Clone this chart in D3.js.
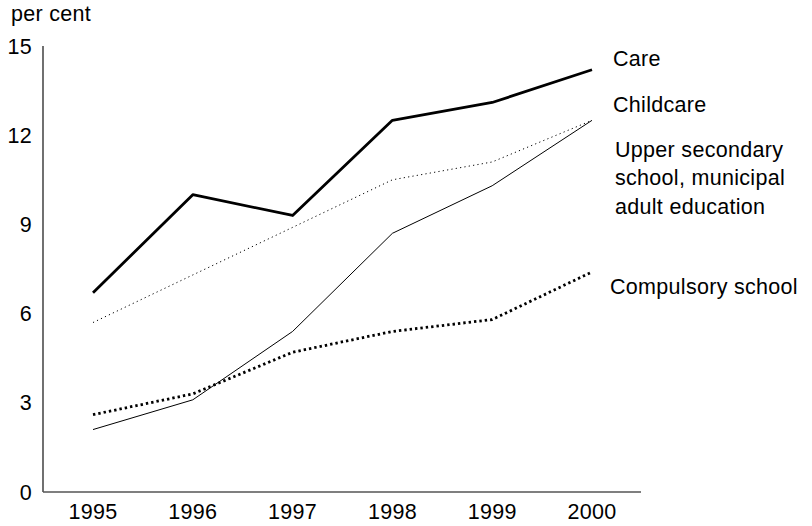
<!DOCTYPE html>
<html>
<head>
<meta charset="utf-8">
<script src="https://cdn.jsdelivr.net/npm/d3@7"></script>
<style>
  body { margin: 0; background: #fff; }
  svg text { font-family: "Liberation Sans", Arial, sans-serif; fill: #000; letter-spacing: 0.3px; }
</style>
</head>
<body>
<div id="chart"></div>
<script>
const years = [1995, 1996, 1997, 1998, 1999, 2000]
const yTicks = [0, 3, 6, 9, 12, 15]
const care = [6.7, 10.0, 9.3, 12.5, 13.1, 14.2]
const childcare = [5.7, 7.3, 8.9, 10.5, 11.1, 12.5]
const upperSecondary = [2.1, 3.1, 5.4, 8.7, 10.3, 12.5]
const compulsory = [2.6, 3.3, 4.7, 5.4, 5.8, 7.4]
const seriesLabels = [
  ["Care"],
  ["Childcare"],
  ["Upper secondary", "school, municipal", "adult education"],
  ["Compulsory school"]
]

const fullwidth = 812;
const fullheight = 526;
const fontSize = 21.5;

const x = d3.scaleLinear().domain([1995, 2000]).range([93, 592]);
const y = d3.scaleLinear().domain([0, 15]).range([492, 46]);

const svg = d3.select("#chart")
  .append("svg")
  .attr("width", fullwidth)
  .attr("height", fullheight);

// axes: plain lines, no ticks
svg.append("line")
  .attr("x1", 43).attr("x2", 43)
  .attr("y1", y(15)).attr("y2", y(0))
  .attr("stroke", "#111")
  .attr("stroke-width", 1.2);

svg.append("line")
  .attr("x1", 43).attr("x2", 641)
  .attr("y1", y(0)).attr("y2", y(0))
  .attr("stroke", "#555")
  .attr("stroke-width", 1.6);

svg.append("g")
  .selectAll("text")
  .data(yTicks)
  .enter().append("text")
  .attr("x", 32)
  .attr("y", d => y(d))
  .attr("dy", "0.35em")
  .attr("text-anchor", "end")
  .style("font-size", fontSize + "px")
  .text(d => d);

svg.append("g")
  .selectAll("text")
  .data(years)
  .enter().append("text")
  .attr("x", d => x(d))
  .attr("y", 519)
  .attr("text-anchor", "middle")
  .style("font-size", fontSize + "px")
  .text(d => d);

svg.append("text")
  .attr("x", 11)
  .attr("y", 21)
  .style("font-size", fontSize + "px")
  .text("per cent");

const series = [
  { values: care, width: 2.8, dash: null },
  { values: childcare, width: 1, dash: "1.2,3.2" },
  { values: upperSecondary, width: 1, dash: null },
  { values: compulsory, width: 2.8, dash: "2.4,3" }
];

const line = d3.line()
  .x((d, i) => x(years[i]))
  .y(d => y(d));

svg.append("g")
  .selectAll("path")
  .data(series)
  .enter().append("path")
  .attr("fill", "none")
  .attr("stroke", "#000")
  .attr("stroke-width", d => d.width)
  .attr("stroke-dasharray", d => d.dash)
  .attr("stroke-linejoin", "round")
  .attr("d", d => line(d.values));

// labels to the right of the lines
const labelTop = [66, 112, 157, 294];
const labelX = [613, 613, 615, 610];
const labels = svg.append("g");
seriesLabels.forEach((lines, k) => {
  const t = labels.append("text")
    .attr("x", labelX[k])
    .attr("y", labelTop[k])
    .style("font-size", fontSize + "px");
  lines.forEach((s, j) => {
    t.append("tspan")
      .attr("x", labelX[k])
      .attr("dy", j === 0 ? 0 : 28.3)
      .text(s);
  });
});
</script>
</body>
</html>
